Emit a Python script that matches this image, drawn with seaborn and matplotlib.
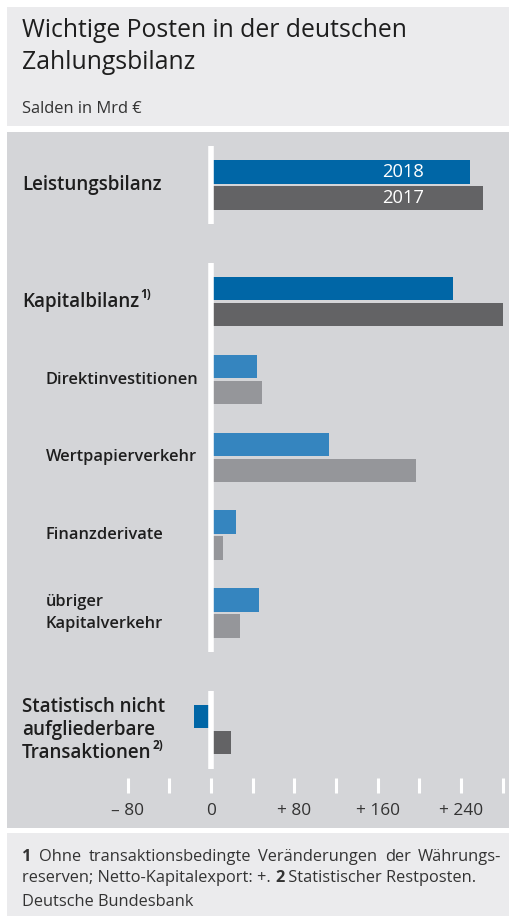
import pandas as pd
import matplotlib
matplotlib.use("Agg")
import matplotlib.pyplot as plt
import seaborn as sns
from matplotlib.patches import Rectangle
from matplotlib.ticker import FixedLocator, FixedFormatter

sns.set_theme(style="white")
plt.rcParams['font.family'] = ['Open Sans', 'DejaVu Sans']

# Daten: Salden in Mrd €
posten = ["Leistungsbilanz", "Kapitalbilanz", "Direktinvestitionen", "Wertpapierverkehr",
          "Finanzderivate", "übriger\nKapitalverkehr",
          "Statistisch nicht\naufgliederbare\nTransaktionen"]
fussnote_marke = ["", "1)", "", "", "", "", "2)"]
hauptposten = [True, True, False, False, False, False, True]
werte_2018 = [249, 232, 44, 113, 24, 46, -16]
werte_2017 = [261, 280, 49, 197, 12, 28, 19]
jahre = ["2018", "2017"]
tick_werte = [-80, 0, 80, 160, 240]
tick_texte = ["\u2013 80", "0", "+ 80", "+ 160", "+ 240"]
tick_minor = [-40, 40, 120, 200, 280]

# Layout
zeilen_pos = [0, 1.5, 2.5, 3.5, 4.5, 5.5, 7.0]
W, H = 510, 916
ZERO_PX, PX_PRO_MRD = 211, 83.33 / 80
Y0_PX, PX_PRO_ZEILE = 185, 77.8
AX_TOP, AX_BOT = 132, 793

farben = {("haupt", "2018"): "#0066a6", ("haupt", "2017"): "#636365",
          ("unter", "2018"): "#3585bf", ("unter", "2017"): "#95969a"}
TXT = "#1e1e1e"

df = pd.DataFrame({
    "pos": zeilen_pos * 2,
    "wert": werte_2018 + werte_2017,
    "jahr": [jahre[0]] * len(posten) + [jahre[1]] * len(posten),
})

fig = plt.figure(figsize=(W / 100, H / 100), dpi=100)
fig.patch.set_facecolor("white")

# Hintergrund-Achse in Pixeln
bg = fig.add_axes([0, 0, 1, 1])
bg.set_xlim(0, W)
bg.set_ylim(H, 0)
bg.axis("off")
bg.add_patch(Rectangle((7, 7), W - 7, 119, color="#ebebed", lw=0))
bg.add_patch(Rectangle((7, 132), W - 7, 696, color="#d4d5d8", lw=0))
bg.add_patch(Rectangle((7, 833), W - 7, 83, color="#ebebed", lw=0))

# Balken-Achse
ax = fig.add_axes([7 / W, 1 - AX_BOT / H, (W - 7) / W, (AX_BOT - AX_TOP) / H])
ax.patch.set_alpha(0)
sns.barplot(data=df, x="wert", y="pos", hue="jahr", hue_order=jahre, orient="y",
            native_scale=True, width=0.668, gap=0.1, linewidth=0, errorbar=None,
            palette=[farben[("haupt", j)] for j in jahre], legend=False, ax=ax)

for cont, jahr in zip(ax.containers, jahre):
    for bar in cont:
        yc = bar.get_y() + bar.get_height() / 2
        i = min(range(len(zeilen_pos)), key=lambda k: abs(zeilen_pos[k] - yc))
        bar.set_facecolor(farben[("haupt" if hauptposten[i] else "unter", jahr)])

ax.set_xlim((7 - ZERO_PX) / PX_PRO_MRD, (W - ZERO_PX) / PX_PRO_MRD)
ax.set_ylim((AX_BOT - Y0_PX) / PX_PRO_ZEILE, (AX_TOP - Y0_PX) / PX_PRO_ZEILE)
for s in ax.spines.values():
    s.set_visible(False)
ax.set_xlabel("")
ax.set_ylabel("")
ax.set_yticks([])
ax.xaxis.set_major_locator(FixedLocator(tick_werte))
ax.xaxis.set_major_formatter(FixedFormatter(tick_texte))
ax.xaxis.set_minor_locator(FixedLocator(tick_minor))
ax.tick_params(axis="x", which="both", direction="in", length=10.8, width=2.2,
               color="white", bottom=True, pad=7, labelsize=12.4, labelcolor="#333333")

# Nulllinie in drei Abschnitten
ax.vlines([0, 0, 0], [-0.5, 1.0, 6.5], [0.5, 6.0, 7.5], colors="white", lw=4, zorder=3)

# Jahreszahlen im Leistungsbilanz-Balken
for cont, jahr in zip(ax.containers, jahre):
    bar = min(cont, key=lambda b: abs(b.get_y() + b.get_height() / 2 - zeilen_pos[0]))
    ax.text(184, bar.get_y() + bar.get_height() / 2, jahr, color="white",
            fontsize=13.2, weight="medium", ha="center", va="center", zorder=4)

fig.canvas.draw()
renderer = fig.canvas.get_renderer()


def breite(t):
    return t.get_window_extent(renderer).width


def zeile_px(pos):
    return H - ax.transData.transform((0, pos))[1]


# Beschriftungen links
for name, marke, haupt, pos in zip(posten, fussnote_marke, hauptposten, zeilen_pos):
    zeilen = name.split("\n")
    groesse = 13.5 if haupt else 11.8
    abstand = 23 if haupt else 22
    x = 22 if haupt else 46
    yc = zeile_px(pos)
    for k, z in enumerate(zeilen):
        y = yc + (k - (len(zeilen) - 1) / 2) * abstand
        t = bg.text(x, y, z, fontsize=groesse, weight="semibold", color=TXT,
                    ha="left", va="center")
        if marke and k == len(zeilen) - 1:
            bg.text(x + breite(t) + 1, y - 7, marke, fontsize=8.5, weight="bold",
                    color=TXT, ha="left", va="center")

# Titel
bg.text(22, 37, "Wichtige Posten in der deutschen", fontsize=17.8, color="#1e1e1e",
        va="baseline")
bg.text(22, 69, "Zahlungsbilanz", fontsize=17.8, color="#1e1e1e", va="baseline")
bg.text(22, 113, "Salden in Mrd \u20ac", fontsize=11.9, color="#333333", va="baseline")

# Fußnoten
FN = 11.8
FN_C = "#333333"
woerter = [("1", "bold"), ("Ohne", "normal"), ("transaktionsbedingte", "normal"),
           ("Veränderungen", "normal"), ("der", "normal"), ("Währungs-", "normal")]
texte = [bg.text(0, 861, w, fontsize=FN, weight=g, color=FN_C, va="baseline")
         for w, g in woerter]
breiten = [breite(t) for t in texte]
luecke = (501.5 - 22 - sum(breiten)) / (len(texte) - 1)
x = 22
for t, b in zip(texte, breiten):
    t.set_x(x)
    x += b + luecke

x = 22
for w, g in [("reserven; Netto-Kapitalexport: +. ", "normal"), ("2", "bold"),
             (" Statistischer Restposten.", "normal")]:
    t = bg.text(x, 882, w, fontsize=FN, weight=g, color=FN_C, va="baseline")
    x += breite(t)

bg.text(22, 906, "Deutsche Bundesbank", fontsize=FN, color=FN_C, va="baseline")

fig.savefig("out.png", dpi=100, facecolor="white")
